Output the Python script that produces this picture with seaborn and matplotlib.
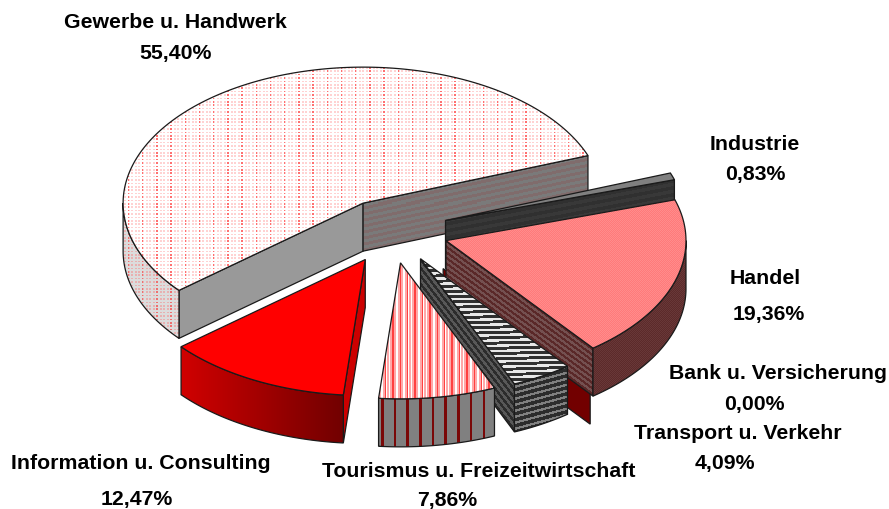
import numpy as np
import matplotlib
matplotlib.use("Agg")
import matplotlib.pyplot as plt
from matplotlib.patches import Polygon
from matplotlib.colors import to_rgb
import seaborn as sns

# ---- data ----
categories = ["Gewerbe u. Handwerk", "Industrie", "Handel", "Bank u. Versicherung",
              "Transport u. Verkehr", "Tourismus u. Freizeitwirtschaft",
              "Information u. Consulting"]
shares = [55.40, 0.83, 19.36, 0.00, 4.09, 7.86, 12.47]
share_labels = ["55,40%", "0,83%", "19,36%", "0,00%", "4,09%", "7,86%", "12,47%"]

# ---- geometry of the projected pie ----
CX, CY, RX, RY, DEPTH = 391.7, 232.0, 240.0, 136.0, 48.0
START = 219.9
EXPLODE = {"Bank u. Versicherung": 0.35}
DEFAULT_EXPLODE = 0.237

sns.set_theme(style="white", rc={"axes.grid": False})
plt.rcParams["font.family"] = ["Liberation Sans", "DejaVu Sans"]

fig = plt.figure(figsize=(8.89, 5.10), dpi=100, facecolor="white")
ax = fig.add_axes([0, 0, 1, 1])
ax.set_xlim(0, 889)
ax.set_ylim(510, 0)
ax.axis("off")


def rgb(c):
    return np.array(to_rgb(c))


def choose(mask, a, b):
    return np.where(mask[..., None], a, b)


def solid(c):
    return lambda X, Y: np.broadcast_to(rgb(c), X.shape + (3,))


def stripes(c1, c2, period, slope=0.0, duty=0.5, vertical=False):
    def f(X, Y):
        v = X if vertical else Y + slope * X
        return choose(np.mod(v, period) < duty * period, rgb(c1), rgb(c2))
    return f


def dots(base, light, strong):
    def f(X, Y):
        img = np.broadcast_to(rgb(base), X.shape + (3,)).copy()
        rows = np.mod(Y, 3.4) < 1.7
        cols = np.mod(X, 3.55) < 2.0
        img = choose(rows & cols, rgb(light), img)
        img = choose(rows & (np.mod(X, 14.2) < 1.5), rgb(strong), img)
        return img
    return f


def check(c1, c2):
    return lambda X, Y: choose(np.mod(np.floor(X) + np.floor(Y), 2) == 0, rgb(c1), rgb(c2))


def x_gradient(colors, x0, x1):
    pal = np.array(sns.blend_palette(colors, 256))
    def f(X, Y):
        i = np.clip(((X - x0) / (x1 - x0) * 255).astype(int), 0, 255)
        return pal[i]
    return f


def tourism_top(X, Y):
    img = choose(np.mod(X, 3.7) < 1.7, rgb("#ffffff"), rgb("#ffa8a8"))
    return choose(np.mod(X, 7.4) < 1.3, rgb("#ff4040"), img)


styles = {
    "Gewerbe u. Handwerk": dict(top=dots("#ffffff", "#ffd2d2", "#ff7070"),
                                rim=dots("#dcdcdc", "#e8b0b0", "#ee7070"),
                                ccw=solid("#999999"),
                                cw=stripes("#7a7a7a", "#806c6c", 6.0, slope=0.213)),
    "Industrie": dict(top=solid("#808080"),
                      cw=stripes("#303030", "#383838", 7.0, slope=0.19)),
    "Handel": dict(top=check("#ff7a7a", "#ff8c8c"),
                   rim=check("#5c2a2a", "#683838"),
                   cw=stripes("#5a2828", "#745050", 5.6, slope=-0.74)),
    "Bank u. Versicherung": dict(cw=solid("#720000")),
    "Transport u. Verkehr": dict(top=stripes("#e8e8e8", "#303030", 5.3, slope=0.03, duty=0.45),
                                 cw=stripes("#2c2c2c", "#585858", 8.0, slope=-1.3),
                                 rim=stripes("#2c2c2c", "#808080", 6.0, slope=0.27, duty=0.6)),
    "Tourismus u. Freizeitwirtschaft": dict(top=tourism_top,
                                            rim=stripes("#7a0808", "#808080", 12.7, vertical=True, duty=0.2)),
    "Information u. Consulting": dict(top=solid("#ff0000"),
                                      rim=x_gradient(["#d00000", "#700000"], 182, 345),
                                      ccw=solid("#cc0000")),
}


def project(cx, cy, deg):
    r = np.deg2rad(deg)
    return np.column_stack([cx + RX * np.cos(r), cy - RY * np.sin(r)])


_z = [1]


def next_z():
    _z[0] += 1
    return _z[0]


def paint(poly, pattern, edge="#1a1a1a", lw=0.9):
    x0, y0 = np.floor(poly.min(axis=0)).astype(int) - 1
    x1, y1 = np.ceil(poly.max(axis=0)).astype(int) + 1
    X, Y = np.meshgrid(np.arange(x0, x1) + 0.5, np.arange(y0, y1) + 0.5)
    im = ax.imshow(pattern(X, Y), extent=(x0, x1, y1, y0), interpolation="nearest",
                   aspect="auto", zorder=next_z())
    clip = Polygon(poly, closed=True, transform=ax.transData, facecolor="none", edgecolor="none")
    ax.add_patch(clip)
    im.set_clip_path(clip)
    ax.add_patch(Polygon(poly, closed=True, fill=False, edgecolor=edge, linewidth=lw, zorder=next_z()))


def cut_face(cx, cy, deg, pattern):
    rim = project(cx, cy, np.array([deg]))[0]
    pts = np.array([[cx, cy], rim, rim + [0, DEPTH], [cx, cy + DEPTH]])
    paint(pts, pattern)


def draw_slice(name, hi, lo):
    mid = (hi + lo) / 2
    k = EXPLODE.get(name, DEFAULT_EXPLODE)
    c = project(CX, CY, np.array([mid]))[0]
    cx, cy = CX + k * (c[0] - CX), CY + k * (c[1] - CY)
    st = styles[name]
    if "ccw" in st and np.sin(np.deg2rad(hi + 90)) < 0:
        cut_face(cx, cy, hi, st["ccw"])
    if "cw" in st and np.sin(np.deg2rad(lo - 90)) < 0:
        cut_face(cx, cy, lo, st["cw"])
    ts = np.linspace(hi, lo, 600)
    if "rim" in st:
        vis = ts[np.sin(np.deg2rad(ts)) <= 0.002]
        if vis.size > 1:
            arc = project(cx, cy, vis)
            paint(np.vstack([arc, (arc + [0, DEPTH])[::-1]]), st["rim"])
    if "top" in st and hi > lo:
        paint(np.vstack([[cx, cy], project(cx, cy, ts)]), st["top"])


edges = START - np.concatenate([[0], np.cumsum(shares) * 3.6])
spans = {n: (edges[i], edges[i + 1]) for i, n in enumerate(categories)}
for name in ["Gewerbe u. Handwerk", "Industrie", "Bank u. Versicherung", "Handel",
             "Transport u. Verkehr", "Tourismus u. Freizeitwirtschaft",
             "Information u. Consulting"]:
    draw_slice(name, *spans[name])

label_pos = {
    "Gewerbe u. Handwerk": ((175, 23), (175, 53)),
    "Industrie": ((755, 145), (755, 175)),
    "Handel": ((765, 279), (769, 315)),
    "Bank u. Versicherung": ((778, 374), (754, 405)),
    "Transport u. Verkehr": ((738, 434), (725, 464)),
    "Tourismus u. Freizeitwirtschaft": ((479, 472), (447, 501)),
    "Information u. Consulting": ((141, 464), (137, 500)),
}
for name, pct in zip(categories, share_labels):
    (nx, ny), (px, py) = label_pos[name]
    for x, y, s in [(nx, ny, name), (px, py, pct)]:
        ax.text(x, y, s, ha="center", va="center", fontsize=15.3, fontweight="bold",
                color="black", zorder=1000)

fig.savefig("out.png", dpi=100, facecolor="white")
